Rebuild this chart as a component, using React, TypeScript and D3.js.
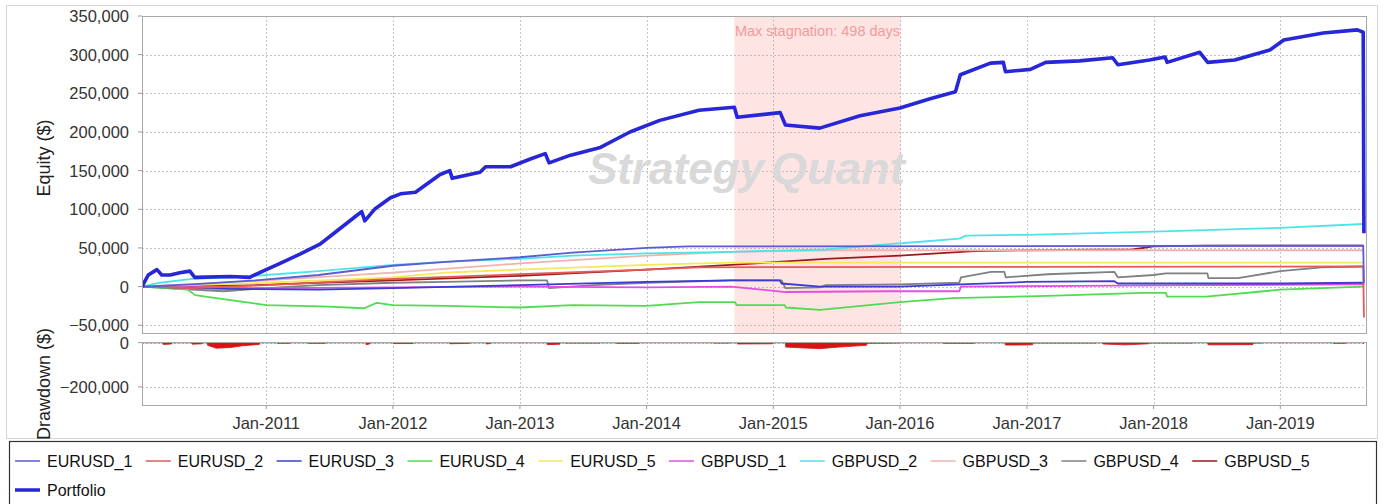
import * as d3 from "d3"

type Pt = [string, number]

const DATE_START = "2010-01-08"
const DATE_END = "2019-09-05"
const STAGNATION: [string, string] = ["2014-09-11", "2016-01-03"]
const STAGNATION_LABEL = "Max stagnation: 498 days"

const EQUITY_TICKS = [-50000, 0, 50000, 100000, 150000, 200000, 250000, 300000, 350000]
const DRAWDOWN_TICKS = [0, -200000]
const X_TICK_YEARS = [2011, 2012, 2013, 2014, 2015, 2016, 2017, 2018, 2019]

const SERIES_NAMES = [
    "EURUSD_1", "EURUSD_2", "EURUSD_3", "EURUSD_4", "EURUSD_5",
    "GBPUSD_1", "GBPUSD_2", "GBPUSD_3", "GBPUSD_4", "GBPUSD_5",
]
const SERIES_COLORS = [
    "#5b5bd6", "#e45a5a", "#3c3cd0", "#4fdd4f", "#f5e85a",
    "#e34fe3", "#4fe3e8", "#f2b1b1", "#808080", "#a01818",
]

const EURUSD_1: Pt[] = [
    ["2010-01-08", 0], ["2010-06-01", 3000], ["2010-12-01", 8000], ["2011-06-01", 15000],
    ["2012-01-01", 27000], ["2012-06-01", 32000], ["2013-01-01", 38000], ["2013-06-01", 44000],
    ["2014-01-01", 50000], ["2014-05-01", 52000], ["2019-08-28", 53000], ["2019-08-30", 4000],
]
const EURUSD_2: Pt[] = [
    ["2010-01-08", 0], ["2010-06-01", -2000], ["2011-01-01", 2000], ["2012-01-01", 10000],
    ["2013-01-01", 16000], ["2014-01-01", 22000], ["2014-06-01", 25000], ["2019-08-28", 26000],
    ["2019-08-30", -40000],
]
const EURUSD_3: Pt[] = [
    ["2010-01-08", 0], ["2010-09-01", -3000], ["2011-06-01", -4000], ["2012-01-01", -2000],
    ["2013-01-01", 2000], ["2014-01-01", 6000], ["2014-09-01", 8000], ["2015-01-20", 8000],
    ["2015-01-25", 4000], ["2015-05-15", 0], ["2016-01-01", 0], ["2016-06-25", 3000],
    ["2017-01-01", 6000], ["2017-09-10", 7000], ["2017-09-20", 4000], ["2019-01-01", 4000],
    ["2019-08-28", 5000],
]
const EURUSD_4: Pt[] = [
    ["2010-01-08", 0], ["2010-05-20", -4000], ["2010-06-10", -11000], ["2010-08-10", -15000],
    ["2010-11-01", -20000], ["2011-01-01", -24000], ["2011-07-01", -26000], ["2011-10-10", -28000],
    ["2011-11-15", -21000], ["2012-01-01", -24000], ["2012-06-01", -25000], ["2013-01-01", -27000],
    ["2013-06-01", -24000], ["2014-01-01", -25000], ["2014-06-01", -20000], ["2014-09-12", -20000],
    ["2014-09-18", -24000], ["2015-02-03", -24000], ["2015-02-06", -27000], ["2015-05-15", -30000],
    ["2016-01-01", -20000], ["2016-06-01", -15000], ["2017-03-01", -12000], ["2017-12-01", -8000],
    ["2018-02-05", -8000], ["2018-02-09", -13000], ["2018-06-01", -13000], ["2019-01-01", -4000],
    ["2019-08-28", 0],
]
const EURUSD_5: Pt[] = [
    ["2010-01-08", 0], ["2011-01-01", 5000], ["2012-01-01", 12000], ["2012-06-01", 18000],
    ["2013-01-01", 22000], ["2014-01-01", 28000], ["2014-09-01", 31000], ["2019-08-28", 31000],
]
const GBPUSD_1: Pt[] = [
    ["2010-01-08", 0], ["2011-01-01", -2000], ["2012-01-01", -1000], ["2013-01-01", 0],
    ["2014-01-01", -1000], ["2014-09-01", 0], ["2015-02-05", -7000], ["2015-12-01", -6000],
    ["2016-06-20", -6000], ["2016-06-25", 0], ["2017-06-01", 1000], ["2018-06-01", 2000],
    ["2019-08-28", 3000],
]
const GBPUSD_2: Pt[] = [
    ["2010-01-08", 0], ["2010-03-01", 5000], ["2010-06-01", 10000], ["2010-10-01", 12000],
    ["2011-01-01", 15000], ["2011-06-01", 20000], ["2012-01-01", 28000], ["2012-06-01", 32000],
    ["2013-01-01", 36000], ["2013-06-01", 40000], ["2014-01-01", 43000], ["2014-09-01", 45000],
    ["2015-06-01", 48000], ["2015-12-01", 55000], ["2016-03-01", 58000], ["2016-06-20", 62000],
    ["2016-07-10", 66000], ["2017-01-01", 67000], ["2018-01-01", 71000], ["2019-01-01", 76000],
    ["2019-08-28", 81000],
]
const GBPUSD_3: Pt[] = [
    ["2010-01-08", 0], ["2011-01-01", 8000], ["2012-01-01", 18000], ["2013-01-01", 30000],
    ["2014-01-01", 40000], ["2014-09-01", 45000], ["2015-06-01", 47000], ["2019-08-28", 47000],
]
const GBPUSD_4: Pt[] = [
    ["2010-01-08", 0], ["2010-06-01", -4000], ["2010-09-01", -6000], ["2011-01-01", -2000],
    ["2011-06-01", 2000], ["2012-01-01", 5000], ["2012-06-01", 6000], ["2013-01-01", 8000],
    ["2013-03-20", 8000], ["2013-03-26", -2000], ["2013-08-01", 2000], ["2014-01-01", 5000],
    ["2014-09-01", 8000], ["2015-01-25", 8000], ["2015-02-05", -2000], ["2015-05-15", -1000],
    ["2015-06-01", 2000], ["2016-01-01", 3000], ["2016-06-20", 5000], ["2016-06-25", 12000],
    ["2016-09-20", 19000], ["2016-10-28", 19000], ["2016-11-01", 12000], ["2017-03-01", 16000],
    ["2017-09-10", 19000], ["2017-09-20", 12000], ["2018-01-01", 15000], ["2018-02-05", 17000],
    ["2018-06-05", 17000], ["2018-06-08", 11000], ["2018-09-01", 11000], ["2019-01-01", 20000],
    ["2019-05-01", 25000], ["2019-08-28", 26000],
]
const GBPUSD_5: Pt[] = [
    ["2010-01-08", 0], ["2010-12-01", 2000], ["2011-06-01", 5000], ["2012-01-01", 8000],
    ["2013-01-01", 14000], ["2014-01-01", 22000], ["2014-09-01", 28000], ["2015-06-01", 36000],
    ["2016-01-01", 40000], ["2016-08-01", 46000], ["2017-01-01", 47000], ["2017-11-01", 48000],
    ["2018-01-01", 52000], ["2018-06-01", 53000], ["2019-08-28", 53000],
]
const PORTFOLIO: Pt[] = [
    ["2010-01-08", 0], ["2010-01-26", 15000], ["2010-02-20", 22000], ["2010-03-06", 15000],
    ["2010-03-30", 15000], ["2010-04-27", 18000], ["2010-05-26", 20000], ["2010-06-09", 12000],
    ["2010-09-20", 13000], ["2010-11-14", 12000], ["2011-01-01", 22000], ["2011-02-10", 30000],
    ["2011-04-08", 42000], ["2011-06-05", 55000], ["2011-07-18", 70000], ["2011-09-13", 90000],
    ["2011-10-03", 97000], ["2011-10-12", 85000], ["2011-11-09", 100000], ["2011-12-25", 115000],
    ["2012-01-23", 120000], ["2012-03-06", 122000], ["2012-05-16", 145000], ["2012-06-13", 150000],
    ["2012-06-20", 140000], ["2012-09-08", 148000], ["2012-09-24", 155000], ["2012-12-05", 155000],
    ["2013-01-31", 165000], ["2013-03-15", 172000], ["2013-03-26", 160000], ["2013-05-27", 170000],
    ["2013-08-21", 180000], ["2013-11-14", 200000], ["2014-02-08", 215000], ["2014-06-01", 228000],
    ["2014-09-11", 232000], ["2014-09-19", 219000], ["2015-01-21", 225000], ["2015-02-05", 209000],
    ["2015-05-15", 205000], ["2015-09-08", 221000], ["2016-01-01", 231000], ["2016-03-28", 243000],
    ["2016-06-09", 252000], ["2016-06-23", 274000], ["2016-09-18", 289000], ["2016-10-25", 290000],
    ["2016-10-31", 278000], ["2017-01-11", 281000], ["2017-02-24", 290000], ["2017-06-02", 292000],
    ["2017-09-05", 296000], ["2017-09-20", 287000], ["2017-12-20", 293000], ["2018-02-03", 297000],
    ["2018-02-09", 290000], ["2018-05-14", 303000], ["2018-06-06", 290000], ["2018-08-23", 293000],
    ["2018-12-02", 306000], ["2019-01-11", 319000], ["2019-05-05", 328000], ["2019-08-11", 332000],
    ["2019-08-28", 329000], ["2019-08-30", 69000],
]
const DRAWDOWN: Pt[] = [
    ["2010-01-08", 0], ["2010-03-09", 0], ["2010-03-10", -8000], ["2010-04-03", -6000], ["2010-04-04", 0],
    ["2010-06-01", 0], ["2010-06-02", -7000], ["2010-06-30", -5000], ["2010-07-01", 0],
    ["2010-07-15", 0], ["2010-07-16", -12000], ["2010-08-10", -25000], ["2010-09-20", -22000],
    ["2010-10-25", -14000], ["2010-12-12", -8000], ["2010-12-13", 0],
    ["2011-02-01", 0], ["2011-02-02", -3000], ["2011-03-10", -3000], ["2011-03-11", 0],
    ["2011-05-01", 0], ["2011-05-02", -3000], ["2011-06-20", -3000], ["2011-06-21", 0],
    ["2011-10-15", 0], ["2011-10-16", -9000], ["2011-10-26", -6000], ["2011-10-27", 0],
    ["2012-01-01", 0], ["2012-01-02", -4000], ["2012-02-28", -4000], ["2012-02-29", 0],
    ["2012-06-12", 0], ["2012-06-13", -5000], ["2012-08-10", -3000], ["2012-08-11", 0],
    ["2012-09-25", 0], ["2012-09-26", -6000], ["2012-10-08", -4000], ["2012-10-09", 0],
    ["2013-03-20", 0], ["2013-03-21", -9000], ["2013-04-26", -7000], ["2013-04-27", 0],
    ["2013-05-10", 0], ["2013-05-11", -2000], ["2013-08-20", -2000], ["2013-08-21", 0],
    ["2013-10-05", 0], ["2013-10-06", -3000], ["2013-12-10", -3000], ["2013-12-11", 0],
    ["2014-07-12", 0], ["2014-07-13", -2000], ["2014-08-28", -2000], ["2014-08-29", 0],
    ["2014-09-19", 0], ["2014-09-20", -6000], ["2014-12-30", -5000], ["2014-12-31", 0],
    ["2015-02-05", 0], ["2015-02-06", -20000], ["2015-04-01", -24000], ["2015-05-15", -27000],
    ["2015-07-10", -20000], ["2015-09-27", -12000], ["2015-09-28", -3000], ["2015-12-30", -2000],
    ["2015-12-31", 0],
    ["2016-05-05", 0], ["2016-05-06", -3000], ["2016-08-02", -3000], ["2016-08-03", 0],
    ["2016-10-30", 0], ["2016-10-31", -11000], ["2017-01-17", -10000], ["2017-01-18", -2000],
    ["2017-07-20", -2000], ["2017-07-21", 0],
    ["2017-08-07", 0], ["2017-08-08", -6000], ["2017-10-12", -10000], ["2017-12-18", -5000],
    ["2017-12-19", -2000], ["2018-04-24", -2000], ["2018-04-25", 0],
    ["2018-06-06", 0], ["2018-06-07", -10000], ["2018-10-14", -9000], ["2018-10-15", -2000],
    ["2018-11-10", -2000], ["2018-11-11", 0],
    ["2019-06-02", 0], ["2019-06-03", -3000], ["2019-07-08", -3000], ["2019-07-09", 0],
    ["2019-08-28", 0], ["2019-08-29", -5000], ["2019-08-30", 0],
]

const SERIES_DATA = [
    EURUSD_1, EURUSD_2, EURUSD_3, EURUSD_4, EURUSD_5,
    GBPUSD_1, GBPUSD_2, GBPUSD_3, GBPUSD_4, GBPUSD_5,
]

const FONT = "'Liberation Sans', Arial, Helvetica, sans-serif"
const PORTFOLIO_COLOR = "#2727d8"

const parse = d3.timeParse("%Y-%m-%d")

export default function App() {
    const left = 142, right = 1366
    const eqTop = 16, eqBottom = 333
    const ddTop = 342, ddBottom = 405

    const x = d3.scaleTime()
        .domain([parse(DATE_START)!, parse(DATE_END)!])
        .range([left, right])
    const yEq = d3.scaleLinear().domain([-60000, 350000]).range([eqBottom, eqTop])
    const yDd = d3.scaleLinear().domain([-282000, 3000]).range([ddBottom, ddTop])

    const line = d3.line<Pt>()
        .x(d => x(parse(d[0])!))
        .y(d => yEq(d[1]))
        .curve(d3.curveLinear)
    const ddArea = d3.area<Pt>()
        .x(d => x(parse(d[0])!))
        .y0(yDd(0))
        .y1(d => yDd(d[1]))

    const fmt = d3.format(",")
    const xTicks = X_TICK_YEARS.map(y => new Date(y, 0, 1))
    const stagX0 = x(parse(STAGNATION[0])!)
    const stagX1 = x(parse(STAGNATION[1])!)

    // JFreeChart draws the first series on top, so render in reverse
    const order = SERIES_DATA.map((_, i) => i).reverse()

    const legendX = (i: number) => 15 + i * 130.8

    return (
        <svg width={1383} height={504} style={{ position: "absolute", left: 0, top: 0, background: "#fff" }}
            fontFamily={FONT}>
            <defs>
                <clipPath id="eqClip">
                    <rect x={left} y={eqTop} width={right - left} height={eqBottom - eqTop} />
                </clipPath>
            </defs>

            {/* outer frame */}
            <rect x={6.5} y={5.5} width={1371} height={433} fill="none" stroke="#d4d4d4" />

            {/* grid */}
            <g stroke="#c4c4c4" strokeDasharray="2,2" strokeWidth={1}>
                {EQUITY_TICKS.map(t => (
                    <line key={t} x1={left} x2={right} y1={Math.round(yEq(t)) + 0.5} y2={Math.round(yEq(t)) + 0.5} />
                ))}
                {xTicks.map(t => (
                    <line key={+t} x1={Math.round(x(t)) + 0.5} x2={Math.round(x(t)) + 0.5} y1={eqTop} y2={eqBottom} />
                ))}
                {DRAWDOWN_TICKS.map(t => (
                    <line key={t} x1={left} x2={right} y1={Math.round(yDd(t)) + 0.5} y2={Math.round(yDd(t)) + 0.5} />
                ))}
                {xTicks.map(t => (
                    <line key={"d" + +t} x1={Math.round(x(t)) + 0.5} x2={Math.round(x(t)) + 0.5} y1={ddTop} y2={ddBottom} />
                ))}
            </g>

            {/* stagnation band */}
            <rect x={stagX0} y={eqTop} width={stagX1 - stagX0} height={eqBottom - eqTop}
                fill="#ff7a7a" fillOpacity={0.2} />
            <text x={(stagX0 + stagX1) / 2} y={36} textAnchor="middle" fontSize={14.5} fill="#f29a9a">
                {STAGNATION_LABEL}
            </text>

            {/* watermark */}
            <g fontSize={44} fontWeight="bold" fontStyle="italic" fill="#d9d9d9">
                <text x={588} y={184} textLength={176} lengthAdjust="spacingAndGlyphs">Strategy</text>
                <text x={771} y={184} textLength={134} lengthAdjust="spacingAndGlyphs">Quant</text>
            </g>

            {/* series lines */}
            <g clipPath="url(#eqClip)" fill="none" strokeLinejoin="round">
                {order.map(i => (
                    <path key={SERIES_NAMES[i]} d={line(SERIES_DATA[i]) ?? ""}
                        stroke={SERIES_COLORS[i]} strokeWidth={1.8} />
                ))}
                <path d={line(PORTFOLIO) ?? ""} stroke={PORTFOLIO_COLOR} strokeWidth={3.6} />
            </g>

            {/* drawdown */}
            <path d={ddArea(DRAWDOWN) ?? ""} fill="#dd1111" stroke="#dd1111" strokeWidth={0.8} />

            {/* plot outlines */}
            <rect x={left + 0.5} y={eqTop + 0.5} width={right - left} height={eqBottom - eqTop}
                fill="none" stroke="#a8a8a8" />
            <rect x={left + 0.5} y={ddTop + 0.5} width={right - left} height={ddBottom - ddTop}
                fill="none" stroke="#a8a8a8" />

            {/* y axis ticks */}
            <g fontSize={16.5} fill="#333" textAnchor="end">
                {EQUITY_TICKS.map(t => (
                    <g key={t}>
                        <line x1={left - 4} x2={left} y1={yEq(t)} y2={yEq(t)} stroke="#999" />
                        <text x={129} y={yEq(t) + 6}>{fmt(t)}</text>
                    </g>
                ))}
                {DRAWDOWN_TICKS.map(t => (
                    <g key={t}>
                        <line x1={left - 4} x2={left} y1={yDd(t)} y2={yDd(t)} stroke="#999" />
                        <text x={129} y={yDd(t) + 6}>{fmt(t)}</text>
                    </g>
                ))}
            </g>

            {/* x axis ticks */}
            <g fontSize={16.5} fill="#333" textAnchor="middle">
                {xTicks.map(t => (
                    <g key={+t}>
                        <line x1={x(t)} x2={x(t)} y1={ddBottom} y2={ddBottom + 4} stroke="#999" />
                        <text x={x(t)} y={429}>{d3.timeFormat("Jan-%Y")(t)}</text>
                    </g>
                ))}
            </g>

            {/* axis labels */}
            <g fontSize={18} fill="#222" textAnchor="middle">
                <text transform="translate(50,158) rotate(-90)">Equity ($)</text>
                <text transform="translate(50,384) rotate(-90)">Drawdown ($)</text>
            </g>

            {/* legend */}
            <rect x={9.5} y={441.5} width={1367} height={80} fill="#fff" stroke="#333" strokeWidth={1.2} />
            <g fontSize={16} fill="#111">
                {SERIES_NAMES.map((name, i) => (
                    <g key={name}>
                        <line x1={legendX(i)} x2={legendX(i) + 25} y1={461} y2={461}
                            stroke={SERIES_COLORS[i]} strokeWidth={2} strokeOpacity={0.75} />
                        <text x={legendX(i) + 32} y={467}>{name}</text>
                    </g>
                ))}
                <line x1={15} x2={40} y1={490} y2={490} stroke={PORTFOLIO_COLOR} strokeWidth={3.5} />
                <text x={47} y={496}>Portfolio</text>
            </g>
        </svg>
    )
}
